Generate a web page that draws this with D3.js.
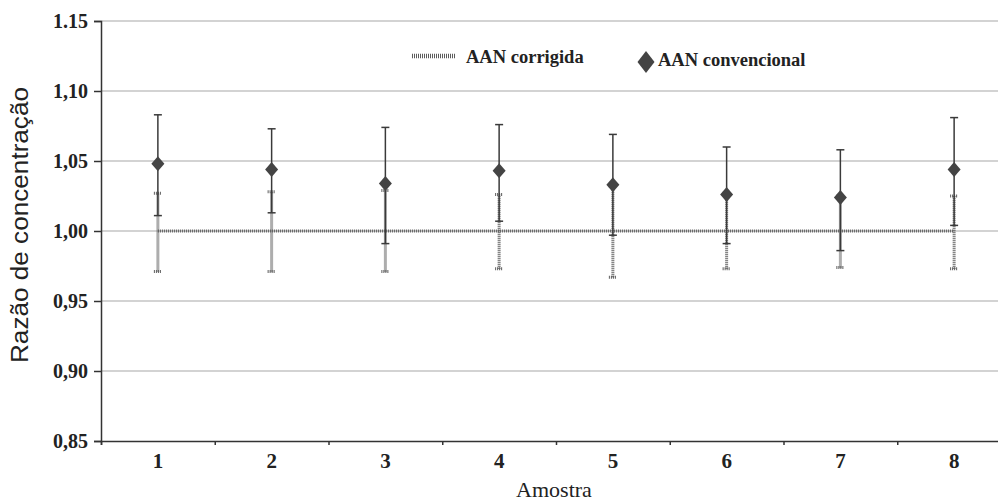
<!DOCTYPE html>
<html>
<head>
<meta charset="utf-8">
<script src="https://cdn.jsdelivr.net/npm/d3@7"></script>
<style>
    body { margin: 0; background: #fff; }
    svg { display: block; }
    .tick-label { font-family: "Liberation Serif", "Times New Roman", serif; font-weight: bold; font-size: 20px; fill: #222; }
    .x-label { font-size: 21px; }
    .legend text { font-family: "Liberation Serif", serif; font-weight: bold; font-size: 18.5px; fill: #222; }
</style>
</head>
<body>
<svg id="chart" width="998" height="502"></svg>
<script>
"use strict";

var categories = ["1", "2", "3", "4", "5", "6", "7", "8"];
var yTicks = [0.85, 0.90, 0.95, 1.00, 1.05, 1.10, 1.15];
var yTickLabels = ["0,85", "0,90", "0,95", "1,00", "1,05", "1,10", "1.15"];

// AAN convencional: mean with lower / upper error bar ends
var convencional = [1.048, 1.044, 1.034, 1.043, 1.033, 1.026, 1.024, 1.044];
var convLow = [1.011, 1.013, 0.991, 1.007, 0.997, 0.991, 0.986, 1.004];
var convHigh = [1.083, 1.073, 1.074, 1.076, 1.069, 1.060, 1.058, 1.081];

// AAN corrigida: ratio fixed at 1, with its error bars
var corrigida = [1.00, 1.00, 1.00, 1.00, 1.00, 1.00, 1.00, 1.00];
var corrLow = [0.971, 0.971, 0.971, 0.973, 0.967, 0.973, 0.974, 0.973];
var corrHigh = [1.027, 1.028, 1.029, 1.026, 1.032, 1.027, 1.025, 1.025];

var svg = d3.select("#chart");
var plot = { left: 101, right: 1011, top: 21, bottom: 441 };

var x = d3.scaleBand().domain(categories).range([plot.left, plot.right]);
var xEdge = d3.scaleLinear().domain([0, categories.length]).range([plot.left, plot.right]);
var y = d3.scaleLinear().domain([0.85, 1.15]).range([plot.bottom, plot.top]);
var cx = function (d) { return x(d) + x.bandwidth() / 2; };

// diamond a bit taller than wide
function diamondPath(hw, hh) {
    var p = d3.path();
    p.moveTo(0, -hh); p.lineTo(hw, 0); p.lineTo(0, hh); p.lineTo(-hw, 0); p.closePath();
    return p.toString();
}

// gridlines
svg.append("g").selectAll("line")
    .data(yTicks.slice(1))
    .enter().append("line")
    .attr("x1", plot.left).attr("x2", 998)
    .attr("y1", function (d) { return y(d); })
    .attr("y2", function (d) { return y(d); })
    .attr("stroke", "#c4c4c4").attr("stroke-width", 1.5);

// y axis
var yAxis = d3.axisLeft(y).tickValues(yTicks).tickSize(7).tickPadding(6)
    .tickFormat(function (d, i) { return yTickLabels[i]; });
var gY = svg.append("g").attr("transform", "translate(" + plot.left + ",0)").call(yAxis);
gY.select(".domain").attr("stroke", "#333").attr("stroke-width", 1.5);
gY.selectAll(".tick line").attr("stroke", "#333").attr("stroke-width", 1.5);
gY.selectAll(".tick text").attr("class", "tick-label");
gY.attr("font-family", null).attr("font-size", null);

// x axis: boundary ticks and centred labels
var gXe = svg.append("g").attr("transform", "translate(0," + plot.bottom + ")")
    .call(d3.axisBottom(xEdge).tickValues(d3.range(categories.length + 1)).tickSize(4).tickFormat(""));
gXe.select(".domain").attr("stroke", "#333").attr("stroke-width", 1.5);
gXe.selectAll(".tick line").attr("stroke", "#333").attr("stroke-width", 1.5);
var gX = svg.append("g").attr("transform", "translate(0," + plot.bottom + ")")
    .call(d3.axisBottom(x).tickSize(0).tickPadding(12));
gX.select(".domain").remove();
gX.selectAll(".tick text").attr("class", "tick-label x-label");
gX.attr("font-family", null).attr("font-size", null);

// axis titles
svg.append("text")
    .attr("x", 554).attr("y", 497)
    .attr("text-anchor", "middle")
    .style("font-family", "Liberation Serif, serif").style("font-size", "22px").style("fill", "#222")
    .text("Amostra");
svg.append("text")
    .attr("transform", "translate(28,225) rotate(-90)")
    .attr("text-anchor", "middle")
    .attr("textLength", 276).attr("lengthAdjust", "spacingAndGlyphs")
    .style("font-family", "Liberation Sans, Arial, sans-serif").style("font-size", "23px").style("fill", "#222")
    .text("Razão de concentração");

// hatched style for the corrected series
function hatch(sel) {
    sel.attr("stroke", "#5c5c5c").attr("stroke-width", 3).attr("stroke-dasharray", "1,1");
}

var gCorr = svg.append("g");
// corrected line at 1,00
gCorr.append("path")
    .datum(corrigida)
    .attr("fill", "none")
    .attr("d", d3.line()
        .x(function (d, i) { return cx(categories[i]); })
        .y(function (d) { return y(d); }))
    .call(hatch);
// corrected error bars
categories.forEach(function (c, i) {
    var g = gCorr.append("g");
    g.append("line").attr("x1", cx(c)).attr("x2", cx(c))
        .attr("y1", y(corrLow[i])).attr("y2", y(corrHigh[i])).call(hatch);
    [corrLow[i], corrHigh[i]].forEach(function (v) {
        g.append("line").attr("x1", cx(c) - 4).attr("x2", cx(c) + 4)
            .attr("y1", y(v)).attr("y2", y(v)).call(hatch);
    });
});

// conventional error bars and diamonds
var gConv = svg.append("g");
categories.forEach(function (c, i) {
    gConv.append("line").attr("x1", cx(c)).attr("x2", cx(c))
        .attr("y1", y(convLow[i])).attr("y2", y(convHigh[i]))
        .attr("stroke", "#3a3a3a").attr("stroke-width", 1.5);
    [convLow[i], convHigh[i]].forEach(function (v) {
        gConv.append("line").attr("x1", cx(c) - 4).attr("x2", cx(c) + 4)
            .attr("y1", y(v)).attr("y2", y(v))
            .attr("stroke", "#3a3a3a").attr("stroke-width", 1.5);
    });
    gConv.append("path")
        .attr("d", diamondPath(6.5, 7.5))
        .attr("transform", "translate(" + cx(c) + "," + y(convencional[i]) + ")")
        .attr("fill", "#444");
});

// legend
var legend = svg.append("g").attr("class", "legend");
legend.append("line").attr("x1", 412).attr("x2", 455).attr("y1", 56).attr("y2", 56)
    .call(hatch).attr("stroke-width", 4.5);
legend.append("text").attr("x", 466).attr("y", 63).text("AAN corrigida");
legend.append("path").attr("d", diamondPath(8.5, 11)).attr("transform", "translate(646,62)").attr("fill", "#444");
legend.append("text").attr("x", 658).attr("y", 66).text("AAN convencional");
</script>
</body>
</html>
